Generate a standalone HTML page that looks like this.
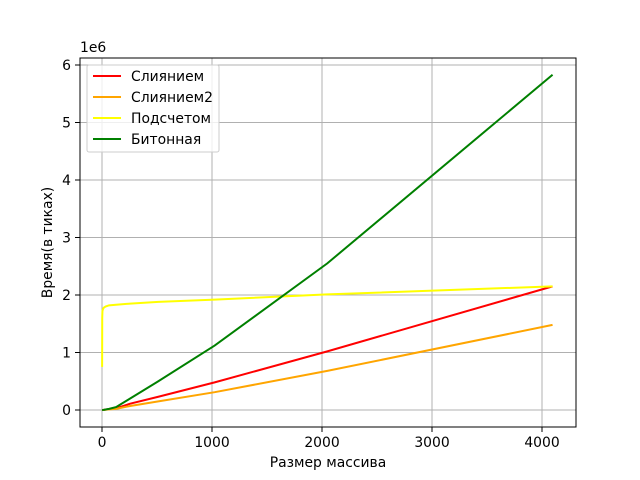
<!DOCTYPE html>
<html><head><meta charset="utf-8"><style>body{margin:0;background:#fff}svg{display:block}text{font-family:"DejaVu Sans","Liberation Sans",sans-serif;}</style></head>
<body>
<svg id="chart" width="640" height="480" xmlns="http://www.w3.org/2000/svg">
<rect width="640" height="480" fill="#fff"/>
<g id="grid"></g><g id="series"></g><g id="axes"></g>
</svg>
<script>
const sizes=[1,2,4,8,16,32,64,128,256,512,1024,2048,4096];
const merge=[0.0,0.0,0.0,0.001,0.003,0.007,0.015,0.03,0.11,0.23,0.48,1.02,2.15];
const merge2=[0.0,0.0,0.0,0.001,0.002,0.005,0.01,0.02,0.07,0.15,0.31,0.68,1.48];
const counting=[0.75,1.6,1.72,1.75,1.78,1.8,1.82,1.83,1.85,1.88,1.92,2.01,2.15];
const bitonic=[0.0,0.0,0.0,0.001,0.003,0.008,0.02,0.05,0.2,0.5,1.12,2.55,5.83];
const xTicks=[0,1000,2000,3000,4000];
const yTicks=[0,1,2,3,4,5,6];
const L=80,R=576,T=58,B=427;
const X=v=>102+v*0.11, Y=v=>410-v*57.5;
const ns="http://www.w3.org/2000/svg";
const FS=13.9;
function mk(p,t,a){const e=document.createElementNS(ns,t);for(const k in a)e.setAttribute(k,a[k]);p.appendChild(e);return e;}
const g=document.getElementById('grid'),s=document.getElementById('series'),ax=document.getElementById('axes');
xTicks.forEach(v=>{const l=mk(g,'line',{x1:X(v),x2:X(v),y1:T,y2:B,stroke:'#b0b0b0','stroke-width':1});

mk(ax,'line',{x1:X(v),x2:X(v),y1:B,y2:B+5,stroke:'#000','stroke-width':1});
const t=mk(ax,'text',{x:X(v),y:B+20,'text-anchor':'middle','font-size':FS});t.textContent=v;
});
yTicks.forEach(v=>{const l=mk(g,'line',{x1:L,x2:R,y1:Y(v),y2:Y(v),stroke:'#b0b0b0','stroke-width':1});

mk(ax,'line',{x1:L-5,x2:L,y1:Y(v),y2:Y(v),stroke:'#000','stroke-width':1});
const t=mk(ax,'text',{x:L-9,y:Y(v)+5,'text-anchor':'end','font-size':FS});t.textContent=v;
});
const ser=[["Слиянием",merge,"#ff0000"],["Слиянием2",merge2,"#ffa500"],["Подсчетом",counting,"#ffff00"],["Битонная",bitonic,"#008000"]];
ser.forEach(([n,d,c])=>{const p=mk(s,'polyline',{points:sizes.map((x,i)=>X(x)+','+Y(d[i])).join(' '),fill:'none',stroke:c,'stroke-width':2});
});
const fr=mk(ax,'rect',{x:L,y:T,width:R-L,height:B-T,fill:'none',stroke:'#000','stroke-width':1});

let t=mk(ax,'text',{x:L,y:T-6,'font-size':FS});t.textContent='1e6';
t=mk(ax,'text',{x:(L+R)/2,y:467,'text-anchor':'middle','font-size':FS});t.textContent='Размер массива';
t=mk(ax,'text',{x:52,y:(T+B)/2,'text-anchor':'middle','font-size':FS,transform:'rotate(-90 52 '+(T+B)/2+')'});t.textContent='Время(в тиках)';
const lg=mk(ax,'g',{});
mk(lg,'rect',{x:87,y:65,width:132,height:87,rx:2,fill:'#fff','fill-opacity':0.8,stroke:'#ccc','stroke-width':1});
ser.forEach(([n,d,c],i)=>{const y=76+i*21;mk(lg,'line',{x1:93,x2:121,y1:y,y2:y,stroke:c,'stroke-width':2});
const tt=mk(lg,'text',{x:131,y:y+5,'font-size':FS});tt.textContent=n;});
</script>
</body></html>
